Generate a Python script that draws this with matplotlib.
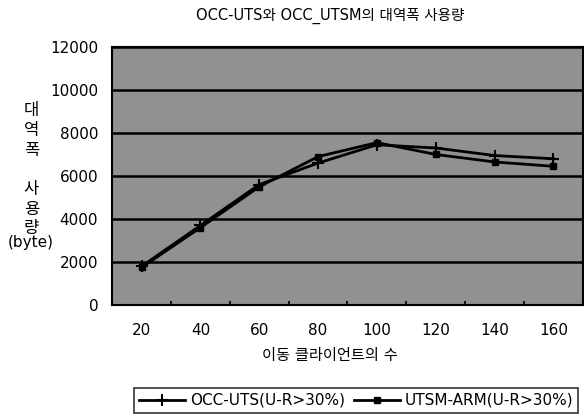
import matplotlib
matplotlib.use("Agg")
import matplotlib.pyplot as plt
import numpy as np

plt.rcParams["font.family"] = ["DejaVu Sans", "Noto Sans CJK KR"]

clients = [20, 40, 60, 80, 100, 120, 140, 160]
occ_uts = [1800, 3700, 5600, 6600, 7450, 7300, 6950, 6800]
utsm_arm = [1750, 3600, 5500, 6900, 7550, 7000, 6650, 6450]
yticks = [0, 2000, 4000, 6000, 8000, 10000, 12000]


def draw(filename: str) -> None:
    """Draw the line chart."""
    fig = plt.figure(figsize=(5.84, 4.18), dpi=100)
    ax = fig.add_axes([0.192, 0.270, 0.806, 0.618])
    ax.set_facecolor("#919191")

    x = np.arange(len(clients))
    ax.plot(x, occ_uts, color="black", lw=2, marker="+", ms=9, mew=1.5,
            label="OCC-UTS(U-R>30%)", zorder=3)
    ax.plot(x, utsm_arm, color="black", lw=2, marker="s", ms=4,
            label="UTSM-ARM(U-R>30%)", zorder=3)

    ax.set_xlim(-0.5, len(clients) - 0.5)
    ax.set_ylim(0, 12000)
    ax.set_yticks(yticks)
    ax.set_xticks(x)
    ax.set_xticklabels([str(c) for c in clients])
    ax.set_xticks(np.arange(len(clients) + 1) - 0.5, minor=True)
    ax.tick_params(axis="x", which="major", length=0, pad=13, labelsize=11)
    ax.tick_params(axis="x", which="minor", length=3, direction="in", width=1.2)
    ax.tick_params(axis="y", length=0, pad=10, labelsize=11)
    ax.grid(axis="y", color="black", lw=1.8)
    ax.set_axisbelow(True)
    for s in ax.spines.values():
        s.set_linewidth(1.5)
        s.set_color("black")

    fig.text(0.565, 0.962, "OCC-UTS와 OCC_UTSM의 대역폭 사용량",
             ha="center", va="center", fontsize=10.5)
    fig.text(0.565, 0.150, "이동 클라이언트의 수",
             ha="center", va="center", fontsize=11)
    fig.text(0.054, 0.595, "대\n역\n폭\n\n사\n용\n량",
             ha="center", va="center", fontsize=12, linespacing=1.12)
    fig.text(0.052, 0.420, "(byte)", ha="center", va="center", fontsize=11)

    leg = fig.legend(loc="center", bbox_to_anchor=(0.610, 0.042), ncol=2,
                     frameon=True, fancybox=False, edgecolor="black",
                     fontsize=11, handlelength=3, handletextpad=0.3,
                     columnspacing=0.6, borderpad=0.35)
    leg.get_frame().set_linewidth(1.2)

    plt.savefig(filename, dpi=100)


def main() -> None:
    draw("out.png")


if __name__ == "__main__":
    main()
